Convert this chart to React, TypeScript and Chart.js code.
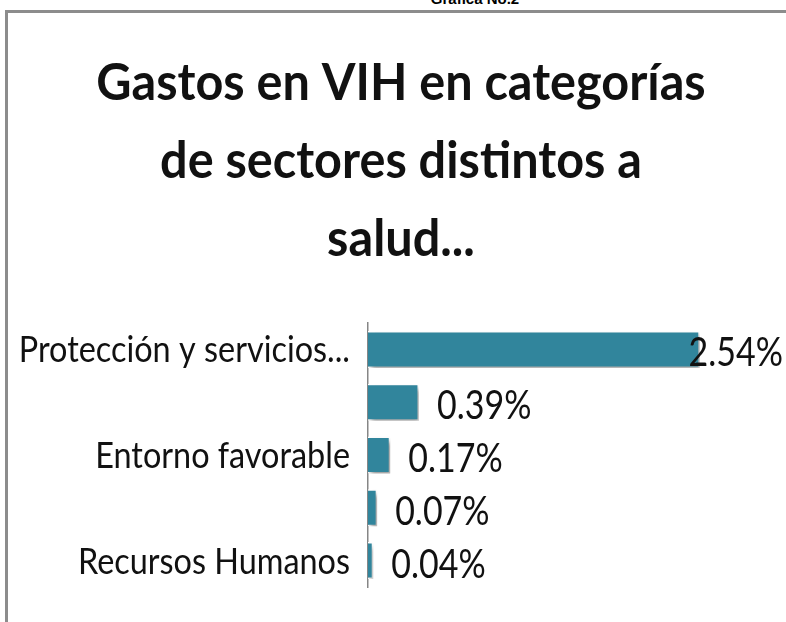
import React, { useEffect, useRef } from "react";
import { Chart, registerables } from "chart.js";

Chart.register(...registerables);

const categories = [
  "Protección y servicios...",
  "",
  "Entorno favorable",
  "",
  "Recursos Humanos",
];
const values = [2.54, 0.39, 0.17, 0.07, 0.04];
const valueLabels = ["2.54%", "0.39%", "0.17%", "0.07%", "0.04%"];
const titleLines = [
  "Gastos en VIH en categorías",
  "de sectores distintos a",
  "salud...",
];
const headerText = "Gráfica No.2";

const FONT = "Lato, 'Open Sans', sans-serif";

function drawSquashed(ctx: any, text: string, x: number, y: number, align: string, sx: number) {
  ctx.save();
  ctx.translate(x, y);
  ctx.scale(sx, 1);
  ctx.textAlign = align;
  ctx.textBaseline = "alphabetic";
  ctx.fillText(text, 0, 0);
  ctx.restore();
}

const shadowPlugin = {
  id: "barShadow",
  beforeDatasetsDraw(chart: any) {
    const ctx = chart.ctx;
    ctx.save();
    ctx.shadowColor = "rgba(0,0,0,0.38)";
    ctx.shadowBlur = 5;
    ctx.shadowOffsetX = 3;
    ctx.shadowOffsetY = 4;
  },
  afterDatasetsDraw(chart: any) {
    chart.ctx.restore();
  },
};

const textPlugin = {
  id: "squashedText",
  afterDraw(chart: any) {
    const ctx = chart.ctx;
    const area = chart.chartArea;
    const yScale = chart.scales.y;
    ctx.save();
    ctx.fillStyle = "#111";

    // title
    ctx.font = `bold 52px ${FONT}`;
    const cx = (16 + chart.width) / 2;
    titleLines.forEach((line, i) => {
      drawSquashed(ctx, line, cx, 100 + i * 78, "center", 0.935);
    });

    // category labels
    ctx.font = `36px ${FONT}`;
    categories.forEach((label, i) => {
      if (!label) return;
      const y = yScale.getPixelForValue(i);
      drawSquashed(ctx, label, area.left - 18, y + 13, "right", 0.9);
    });

    // value labels
    const vsx = 0.85;
    ctx.font = `40px ${FONT}`;
    const meta = chart.getDatasetMeta(0);
    meta.data.forEach((bar: any, i: number) => {
      const text = valueLabels[i];
      const w = ctx.measureText(text).width * vsx;
      const x = Math.min(bar.x + 18, area.right - w - 3);
      drawSquashed(ctx, text, x, bar.y + 17, "left", vsx);
    });
    ctx.restore();
  },
};

export default function App() {
  const ref = useRef<HTMLCanvasElement>(null);
  useEffect(() => {
    if (!ref.current) return;
    let chart: any = null;
    chart = new Chart(ref.current as HTMLCanvasElement, {
      type: "bar",
      data: {
        labels: categories,
        datasets: [
          {
            data: values,
            backgroundColor: "#31859C",
            borderColor: "#ffffff",
            borderWidth: 1.5,
            categoryPercentage: 1,
            barPercentage: 0.7,
          },
        ],
      },
      options: {
        indexAxis: "y",
        responsive: false,
        animation: false,
        layout: { padding: { left: 16, right: 0, top: 323, bottom: 35 } },
        plugins: {
          legend: { display: false },
          tooltip: { enabled: false },
          title: { display: false },
        },
        scales: {
          x: { display: false, min: 0, max: 3.2 },
          y: {
            grid: { display: false },
            border: { display: true, color: "#868686", width: 1.5 },
            ticks: { display: false },
            afterFit(scale: any) {
              scale.width = 352;
            },
          },
        },
      },
      plugins: [shadowPlugin, textPlugin],
    });
    const fonts: any = (document as any).fonts;
    let cancelled = false;
    if (fonts && fonts.load) {
      Promise.all([fonts.load(`36px Lato`), fonts.load(`bold 52px Lato`)]).then(() => {
        if (!cancelled && chart) chart.update();
      });
    }
    return () => {
      cancelled = true;
      if (chart) chart.destroy();
    };
  }, []);

  return (
    <div style={{ position: "absolute", left: 0, top: 0, width: 786, height: 622, overflow: "hidden", background: "#fff" }}>
      <div
        style={{
          position: "absolute",
          left: 5,
          top: 10,
          width: 800,
          height: 640,
          borderTop: "3px solid #8c8c8c",
          borderLeft: "3px solid #8c8c8c",
        }}
      />
      <div
        style={{
          position: "absolute",
          left: 0,
          width: 950,
          top: -10,
          textAlign: "center",
          fontFamily: "'Liberation Sans', Arial, sans-serif",
          fontWeight: "bold",
          fontSize: 15,
          lineHeight: "17px",
          color: "#000",
        }}
      >
        {headerText}
      </div>
      <canvas ref={ref} width={786} height={622} style={{ position: "absolute", left: 0, top: 0 }} />
    </div>
  );
}
